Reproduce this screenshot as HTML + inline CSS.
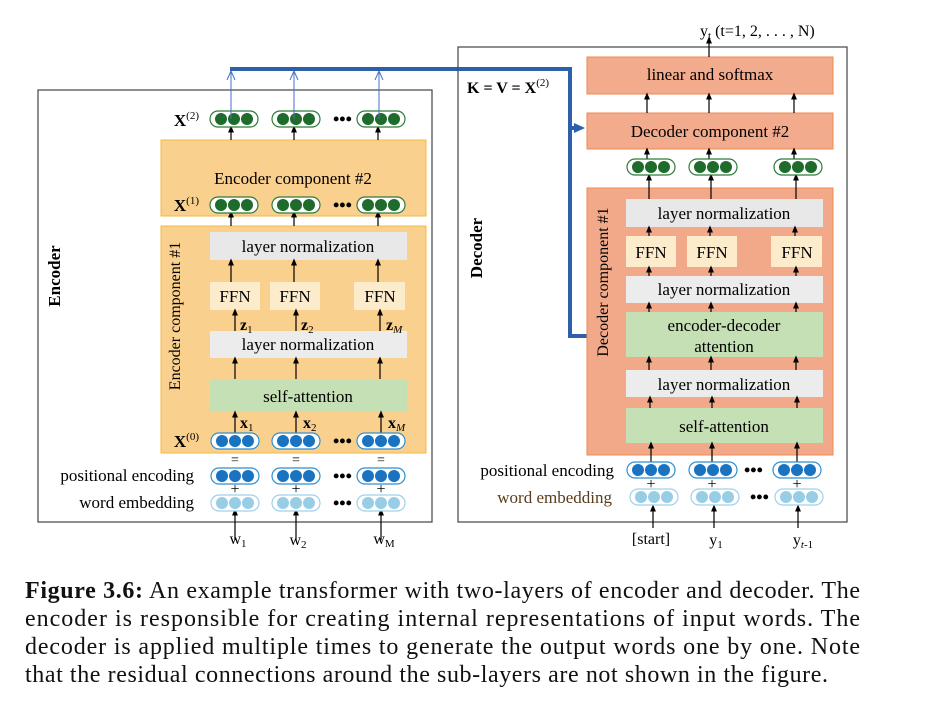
<!DOCTYPE html>
<html><head><meta charset="utf-8"><style>html,body{margin:0;padding:0;background:#fff}svg{display:block}</style></head><body>
<svg width="928" height="711" viewBox="0 0 928 711" xmlns="http://www.w3.org/2000/svg" font-family="Liberation Serif, serif">
<defs>
<marker id="a" markerWidth="6" markerHeight="6" refX="3" refY="3" orient="auto"><path d="M0,0.5 L6,3 L0,5.5 z" fill="#000"/></marker>
<marker id="ab" markerUnits="userSpaceOnUse" markerWidth="10" markerHeight="10" refX="8" refY="5" orient="auto"><path d="M0,1 L9,5 L0,9" fill="none" stroke="#4472c4" stroke-width="1"/></marker>
<marker id="bb" markerUnits="userSpaceOnUse" markerWidth="14" markerHeight="14" refX="4" refY="7" orient="auto"><path d="M0,2 L11,7 L0,12 z" fill="#2e5fab"/></marker>
<g id="ovG"><rect x="0" y="-8" width="48" height="16" rx="8" fill="#fff" stroke="#2d7a3a" stroke-width="1.2"/><circle cx="11" cy="0" r="6" fill="#1e6b2c"/><circle cx="24" cy="0" r="6" fill="#1e6b2c"/><circle cx="37" cy="0" r="6" fill="#1e6b2c"/></g>
<g id="ovB"><rect x="0" y="-8" width="48" height="16" rx="8" fill="#fff" stroke="#2e8fd0" stroke-width="1.2"/><circle cx="11" cy="0" r="6" fill="#1a73c0"/><circle cx="24" cy="0" r="6" fill="#1a73c0"/><circle cx="37" cy="0" r="6" fill="#1a73c0"/></g>
<g id="ovL"><rect x="0" y="-8" width="48" height="16" rx="8" fill="#fff" stroke="#9fd0ea" stroke-width="1.2"/><circle cx="11" cy="0" r="6" fill="#98cde6"/><circle cx="24" cy="0" r="6" fill="#98cde6"/><circle cx="37" cy="0" r="6" fill="#98cde6"/></g>
</defs>

<!-- ENCODER -->
<rect x="38" y="90" width="394" height="432" fill="none" stroke="#444" stroke-width="1.2"/>
<text transform="translate(60,276) rotate(-90)" text-anchor="middle" font-size="17" font-weight="bold">Encoder</text>
<rect x="161" y="140" width="265" height="76" fill="#f9d08e" stroke="#f5b942"/>
<rect x="161" y="226" width="265" height="227" fill="#f9d08e" stroke="#f5b942"/>
<text x="293" y="184" text-anchor="middle" font-size="17">Encoder component #2</text>
<text transform="translate(180,316) rotate(-90)" text-anchor="middle" font-size="16">Encoder component #1</text>
<rect x="210" y="232" width="197" height="28" fill="#e8e8e8"/>
<text x="308" y="252" text-anchor="middle" font-size="17">layer normalization</text>
<rect x="210" y="282" width="50" height="28" fill="#fdeccb"/><text x="235" y="302" text-anchor="middle" font-size="17">FFN</text>
<rect x="270" y="282" width="50" height="28" fill="#fdeccb"/><text x="295" y="302" text-anchor="middle" font-size="17">FFN</text>
<rect x="354" y="282" width="51" height="28" fill="#fdeccb"/><text x="380" y="302" text-anchor="middle" font-size="17">FFN</text>
<rect x="210" y="331" width="197" height="27" fill="#ececec"/>
<text x="308" y="350" text-anchor="middle" font-size="17">layer normalization</text>
<rect x="210" y="379" width="197" height="33" fill="#c5e0b4"/>
<text x="308" y="402" text-anchor="middle" font-size="17">self-attention</text>
<g stroke="#000" stroke-width="1.2" marker-end="url(#a)">
<line x1="231" y1="140" x2="231" y2="129"/><line x1="294" y1="140" x2="294" y2="129"/><line x1="378" y1="140" x2="378" y2="129"/>
<line x1="231" y1="226" x2="231" y2="214"/><line x1="294" y1="226" x2="294" y2="214"/><line x1="378" y1="226" x2="378" y2="214"/>
<line x1="231" y1="282" x2="231" y2="262"/><line x1="294" y1="282" x2="294" y2="262"/><line x1="378" y1="282" x2="378" y2="262"/>
<line x1="235" y1="331" x2="235" y2="312"/><line x1="296" y1="331" x2="296" y2="312"/><line x1="380" y1="331" x2="380" y2="312"/>
<line x1="235" y1="379" x2="235" y2="360"/><line x1="296" y1="379" x2="296" y2="360"/><line x1="380" y1="379" x2="380" y2="360"/>
<line x1="235" y1="433" x2="235" y2="414"/><line x1="296" y1="433" x2="296" y2="414"/><line x1="381" y1="433" x2="381" y2="414"/>
<line x1="235" y1="540" x2="235" y2="512"/><line x1="296" y1="540" x2="296" y2="512"/><line x1="381" y1="540" x2="381" y2="512"/>
</g>
<g font-size="16" font-weight="bold">
<text x="240" y="330">z<tspan font-size="11" dy="3" font-weight="normal">1</tspan></text>
<text x="301" y="330">z<tspan font-size="11" dy="3" font-weight="normal">2</tspan></text>
<text x="386" y="330">z<tspan font-size="11" dy="3" font-weight="normal" font-style="italic">M</tspan></text>
<text x="240" y="428">x<tspan font-size="11" dy="3" font-weight="normal">1</tspan></text>
<text x="303" y="428">x<tspan font-size="11" dy="3" font-weight="normal">2</tspan></text>
<text x="388" y="428">x<tspan font-size="11" dy="3" font-weight="normal" font-style="italic">M</tspan></text>
</g>
<g font-size="17" font-weight="bold" text-anchor="end">
<text x="199" y="126">X<tspan font-size="11" font-weight="normal" dy="-7">(2)</tspan></text>
<text x="199" y="211">X<tspan font-size="11" font-weight="normal" dy="-7">(1)</tspan></text>
<text x="199" y="447">X<tspan font-size="11" font-weight="normal" dy="-7">(0)</tspan></text>
</g>
<use href="#ovG" x="210" y="119"/><use href="#ovG" x="272" y="119"/><use href="#ovG" x="357" y="119"/>
<use href="#ovG" x="210" y="205"/><use href="#ovG" x="272" y="205"/><use href="#ovG" x="357" y="205"/>
<use href="#ovB" x="211" y="441"/><use href="#ovB" x="272" y="441"/><use href="#ovB" x="357" y="441"/>
<use href="#ovB" x="211" y="476"/><use href="#ovB" x="272" y="476"/><use href="#ovB" x="357" y="476"/>
<use href="#ovL" x="211" y="503"/><use href="#ovL" x="272" y="503"/><use href="#ovL" x="357" y="503"/>
<g font-size="18" font-weight="bold"><text x="333" y="125">•••</text><text x="333" y="211">•••</text><text x="333" y="447">•••</text><text x="333" y="482">•••</text><text x="333" y="509">•••</text></g>
<g font-size="14" text-anchor="middle"><text x="235" y="464">=</text><text x="296" y="464">=</text><text x="381" y="464">=</text>
<text x="235" y="494" font-size="16">+</text><text x="296" y="494" font-size="16">+</text><text x="381" y="494" font-size="16">+</text></g>
<text x="194" y="481" text-anchor="end" font-size="17">positional encoding</text>
<text x="194" y="508" text-anchor="end" font-size="17">word embedding</text>
<g font-size="16" text-anchor="middle"><text x="238" y="544">w<tspan font-size="11" dy="3">1</tspan></text><text x="298" y="545">w<tspan font-size="11" dy="3">2</tspan></text><text x="384" y="544">w<tspan font-size="11" dy="3">M</tspan></text></g>

<!-- blue connectors -->
<g stroke="#4472c4" stroke-width="1" marker-end="url(#ab)">
<line x1="231" y1="119" x2="231" y2="72"/><line x1="294" y1="119" x2="294" y2="72"/><line x1="379" y1="119" x2="379" y2="72"/>
</g>
<polyline points="230,69 570,69 570,336 618,336" fill="none" stroke="#2e5fab" stroke-width="4" marker-end="url(#bb)"/>
<line x1="570" y1="128" x2="578" y2="128" stroke="#2e5fab" stroke-width="4" marker-end="url(#bb)"/>

<!-- DECODER -->
<rect x="458" y="47" width="389" height="475" fill="none" stroke="#444" stroke-width="1.2"/>
<polyline points="458,69 570,69" stroke="#2e5fab" stroke-width="4"/>
<text transform="translate(482,248) rotate(-90)" text-anchor="middle" font-size="17" font-weight="bold">Decoder</text>
<text x="467" y="93" font-size="16" font-weight="bold">K = V = X<tspan font-size="11" font-weight="normal" dy="-7">(2)</tspan></text>
<rect x="587" y="57" width="246" height="37" fill="#f3ab8d" stroke="#f08a50"/>
<text x="710" y="80" text-anchor="middle" font-size="17">linear and softmax</text>
<rect x="587" y="113" width="246" height="36" fill="#f3ab8d" stroke="#f08a50"/>
<text x="710" y="137" text-anchor="middle" font-size="17">Decoder component #2</text>
<rect x="587" y="188" width="246" height="267" fill="#f2a98a" stroke="#f08a50"/>
<text transform="translate(608,282) rotate(-90)" text-anchor="middle" font-size="16">Decoder component #1</text>
<rect x="626" y="199" width="197" height="28" fill="#e8e8e8"/><text x="724" y="219" text-anchor="middle" font-size="17">layer normalization</text>
<rect x="626" y="236" width="50" height="31" fill="#fdeccb"/><text x="651" y="258" text-anchor="middle" font-size="17">FFN</text>
<rect x="687" y="236" width="50" height="31" fill="#fdeccb"/><text x="712" y="258" text-anchor="middle" font-size="17">FFN</text>
<rect x="771" y="236" width="51" height="31" fill="#fdeccb"/><text x="797" y="258" text-anchor="middle" font-size="17">FFN</text>
<rect x="626" y="276" width="197" height="27" fill="#ececec"/><text x="724" y="295" text-anchor="middle" font-size="17">layer normalization</text>
<rect x="626" y="312" width="197" height="45" fill="#c5e0b4"/>
<text x="724" y="331" text-anchor="middle" font-size="17">encoder-decoder</text><text x="724" y="352" text-anchor="middle" font-size="17">attention</text>
<rect x="626" y="370" width="197" height="27" fill="#ececec"/><text x="724" y="390" text-anchor="middle" font-size="17">layer normalization</text>
<rect x="626" y="408" width="197" height="35" fill="#c5e0b4"/><text x="724" y="432" text-anchor="middle" font-size="17">self-attention</text>
<g stroke="#000" stroke-width="1.2" marker-end="url(#a)">
<line x1="709" y1="57" x2="709" y2="40"/>
<line x1="647" y1="113" x2="647" y2="96"/><line x1="709" y1="113" x2="709" y2="96"/><line x1="794" y1="113" x2="794" y2="96"/>
<line x1="647" y1="159" x2="647" y2="151"/><line x1="709" y1="159" x2="709" y2="151"/><line x1="794" y1="159" x2="794" y2="151"/>
<line x1="649" y1="199" x2="649" y2="177"/><line x1="711" y1="199" x2="711" y2="177"/><line x1="796" y1="199" x2="796" y2="177"/>
<line x1="649" y1="236" x2="649" y2="229"/><line x1="710" y1="236" x2="710" y2="229"/><line x1="795" y1="236" x2="795" y2="229"/>
<line x1="649" y1="276" x2="649" y2="269"/><line x1="711" y1="276" x2="711" y2="269"/><line x1="796" y1="276" x2="796" y2="269"/>
<line x1="649" y1="312" x2="649" y2="305"/><line x1="711" y1="312" x2="711" y2="305"/><line x1="796" y1="312" x2="796" y2="305"/>
<line x1="649" y1="370" x2="649" y2="359"/><line x1="711" y1="370" x2="711" y2="359"/><line x1="796" y1="370" x2="796" y2="359"/>
<line x1="650" y1="408" x2="650" y2="399"/><line x1="712" y1="408" x2="712" y2="399"/><line x1="797" y1="408" x2="797" y2="399"/>
<line x1="651" y1="462" x2="651" y2="445"/><line x1="712" y1="462" x2="712" y2="445"/><line x1="797" y1="462" x2="797" y2="445"/>
<line x1="653" y1="528" x2="653" y2="508"/><line x1="714" y1="528" x2="714" y2="508"/><line x1="798" y1="528" x2="798" y2="508"/>
</g>
<use href="#ovG" x="627" y="167"/><use href="#ovG" x="689" y="167"/><use href="#ovG" x="774" y="167"/>
<use href="#ovB" x="627" y="470"/><use href="#ovB" x="689" y="470"/><use href="#ovB" x="773" y="470"/>
<use href="#ovL" x="630" y="497"/><use href="#ovL" x="691" y="497"/><use href="#ovL" x="775" y="497"/>
<g font-size="18" font-weight="bold"><text x="744" y="476">•••</text><text x="750" y="503">•••</text></g>
<g font-size="16" text-anchor="middle"><text x="651" y="489">+</text><text x="712" y="489">+</text><text x="797" y="489">+</text></g>
<text x="614" y="476" text-anchor="end" font-size="17">positional encoding</text>
<text x="612" y="503" text-anchor="end" font-size="17" fill="#5a3c1c">word embedding</text>
<g font-size="16" text-anchor="middle"><text x="651" y="544">[start]</text><text x="716" y="545">y<tspan font-size="11" dy="3">1</tspan></text><text x="803" y="545">y<tspan font-size="11" dy="3" font-style="italic">t</tspan><tspan font-size="11">-1</tspan></text></g>
<text x="700" y="36" font-size="16">y<tspan font-size="11" dy="3">t</tspan><tspan dy="-3"> (t=1, 2, . . . , N)</tspan></text>

<!-- caption -->
<g font-size="24" fill="#111">
<text x="25" y="598" textLength="835" lengthAdjust="spacing"><tspan font-weight="bold">Figure 3.6:</tspan> An example transformer with two-layers of encoder and decoder. The</text>
<text x="25" y="626" textLength="835" lengthAdjust="spacing">encoder is responsible for creating internal representations of input words. The</text>
<text x="25" y="654" textLength="835" lengthAdjust="spacing">decoder is applied multiple times to generate the output words one by one. Note</text>
<text x="25" y="682" textLength="803" lengthAdjust="spacing">that the residual connections around the sub-layers are not shown in the figure.</text>
</g>
</svg>
</body></html>
